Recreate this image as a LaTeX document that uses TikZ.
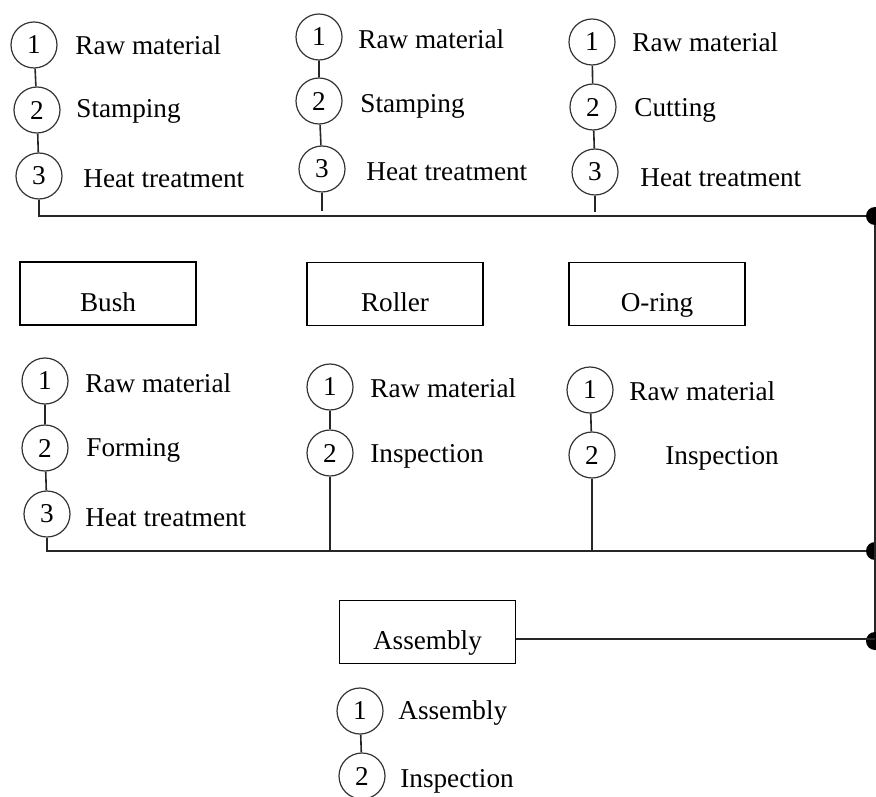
\documentclass[tikz,border=0pt]{standalone}
\usepackage{fontspec}
\setmainfont{Liberation Serif}
\begin{document}
\begin{tikzpicture}[x=0.5pt,y=-0.5pt,
  every node/.style={font=\fontsize{13.6pt}{16pt}\selectfont},
  circ/.style={draw=black!80,line width=0.6pt,circle,minimum size=23pt,inner sep=0pt},
  lbl/.style={anchor=base west,inner sep=0pt},
  box/.style={draw,line width=0.7pt,minimum width=88pt,minimum height=31.5pt,inner sep=0pt,text height=20.5pt,text depth=3pt},
  dot/.style={fill=black,circle,minimum size=9pt,inner sep=0pt},
  conn/.style={line width=0.8pt,draw=black!85}]
\useasboundingbox (0,0) rectangle (876,796);
% top column 1
\node[circ] (a1) at (34,45) {1};
\node[circ] (a2) at (37,110) {2};
\node[circ] (a3) at (39,176) {3};
\node[lbl] (la1) at (75,55) {Raw material};
\node[lbl] (la2) at (76,118) {Stamping};
\node[lbl] (la3) at (83,188) {Heat treatment};
% top column 2
\node[circ] (b1) at (319,37) {1};
\node[circ] (b2) at (319,101) {2};
\node[circ] (b3) at (322,169) {3};
\node[lbl] (lb1) at (358,49) {Raw material};
\node[lbl] (lb2) at (360,113) {Stamping};
\node[lbl] (lb3) at (366,181) {Heat treatment};
% top column 3
\node[circ] (c1) at (592,42) {1};
\node[circ] (c2) at (593,107) {2};
\node[circ] (c3) at (595,172) {3};
\node[lbl] (lc1) at (632,52) {Raw material};
\node[lbl] (lc2) at (634,117) {Cutting};
\node[lbl] (lc3) at (640,187) {Heat treatment};
% dots
\node[dot] (dA) at (875,216) {};
\node[dot] (dB) at (875,551) {};
\node[dot] (dC) at (875,641) {};
% boxes
\node[box] (bush) at (108,293.5) {Bush};
\node[box] (roller) at (395,294) {Roller};
\node[box] (oring) at (657,294) {O-ring};
\node[box] (asm) at (427.5,632) {Assembly};
% bottom column 1
\node[circ] (d1) at (45,381) {1};
\node[circ] (d2) at (45,448) {2};
\node[circ] (d3) at (47,514) {3};
\node[lbl] (ld1) at (85,392) {Raw material};
\node[lbl] (ld2) at (86,456) {Forming};
\node[lbl] (ld3) at (85,526) {Heat treatment};
% bottom column 2
\node[circ] (e1) at (330,387) {1};
\node[circ] (e2) at (330,453) {2};
\node[lbl] (le1) at (370,397) {Raw material};
\node[lbl] (le2) at (370,462) {Inspection};
% bottom column 3
\node[circ] (f1) at (590,390) {1};
\node[circ] (f2) at (592,455) {2};
\node[lbl] (lf1) at (629,400) {Raw material};
\node[lbl] (lf2) at (665,464) {Inspection};
% assembly list
\node[circ] (g1) at (360,711) {1};
\node[circ] (g2) at (362,776) {2};
\node[lbl] (lg1) at (398,719) {Assembly};
\node[lbl] (lg2) at (400,787) {Inspection};
% connectors
\draw[conn] (a1) -- (a2) -- (a3);
\draw[conn] (b1) -- (b2) -- (b3);
\draw[conn] (c1) -- (c2) -- (c3);
\draw[conn] (d1) -- (d2) -- (d3);
\draw[conn] (e1) -- (e2);
\draw[conn] (f1) -- (f2);
\draw[conn] (g1) -- (g2);
\draw[conn] (a3.south) |- (dA);
\draw[conn] (b3.south) -- ([yshift=2.5pt]b3.south |- dA);
\draw[conn] (c3.south) -- ([yshift=2pt]c3.south |- dA);
\draw[conn] (d3.south) |- (dB);
\draw[conn] (e2.south) -- (e2.south |- dB);
\draw[conn] (f2.south) -- (f2.south |- dB);
\draw[conn] (dA) -- (dC);
\draw[conn] (asm.east |- 0,639) -- (dC.center |- 0,639);
\end{tikzpicture}
\end{document}
